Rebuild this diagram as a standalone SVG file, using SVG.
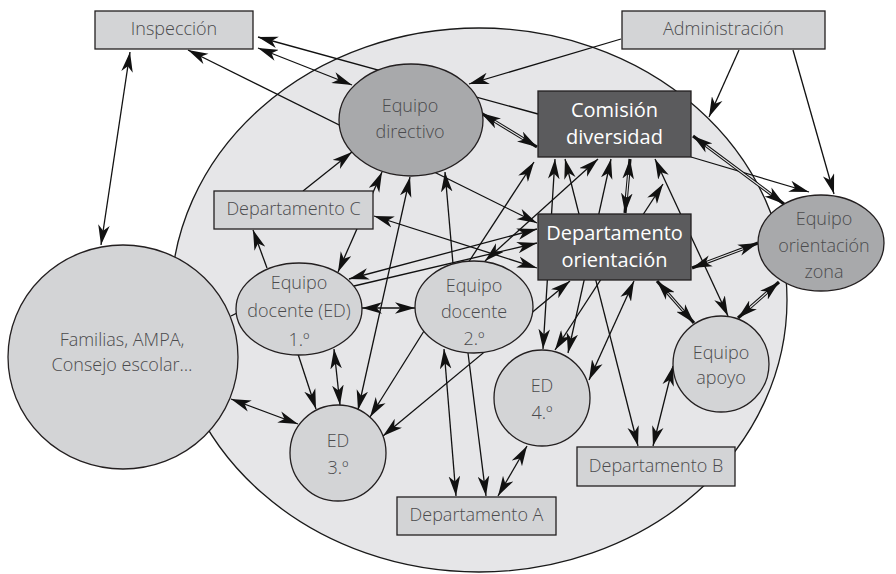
<svg xmlns="http://www.w3.org/2000/svg" width="896" height="574" viewBox="0 0 896 574">
  <defs>
    <marker id="ah" viewBox="-20 -6 21 12" refX="0" refY="0" markerWidth="21" markerHeight="12" markerUnits="userSpaceOnUse" orient="auto-start-reverse">
      <path d="M0,0 L-20,-5.8 L-14.5,0 L-20,5.8 Z" fill="#111"/>
    </marker>
  </defs>
  <style>
    .bg{fill:#e6e6e8;stroke:#1a1a1a;stroke-width:1.3}
    .lt{fill:#d3d4d6;stroke:#231f20;stroke-width:1.3}
    .md{fill:#a8a9ab;stroke:#231f20;stroke-width:1.3}
    .dk{fill:#5b5b5d;stroke:#231f20;stroke-width:1.3}
    .c{stroke:#111;stroke-width:1.3;fill:none}
    .one{marker-end:url(#ah)}
    .two{marker-start:url(#ah);marker-end:url(#ah)}
    .dbl{stroke-width:3.2}
    .gap{stroke:#e6e6e8;stroke-width:1.1;fill:none}
    text{font-family:"Open Sans","Liberation Sans",sans-serif;font-size:18px;font-weight:300;fill:#4b4b4d;text-anchor:middle}
    text.w{fill:#ffffff;font-size:20px;font-weight:400}
  </style>

  <!-- school: large background ellipse -->
  <ellipse id="escuela" class="bg" cx="479" cy="300" rx="308" ry="272"/>

  <g id="connectors">
    <line class="c one" x1="538" y1="114" x2="258" y2="37"/>
    <line class="c two" x1="258" y1="48" x2="352" y2="85"/>
    <line class="c two" x1="130" y1="52" x2="101" y2="245"/>
    <line class="c two" x1="188" y1="50" x2="537" y2="223"/>
    <line class="c one" x1="621" y1="39" x2="469" y2="84"/>
    <line class="c one" x1="739" y1="50" x2="709" y2="117"/>
    <line class="c one" x1="793" y1="50" x2="834" y2="194"/>
    <line class="c one" x1="691" y1="157" x2="809" y2="192"/>
    <line class="c two" x1="655" y1="159" x2="728" y2="316"/>
    <line class="c two" x1="673" y1="366" x2="653" y2="446"/>
    <line class="c two" x1="565" y1="159" x2="638" y2="446"/>
    <line class="c two" x1="543" y1="349" x2="555" y2="159"/>
    <line class="c two" x1="568" y1="353" x2="611" y2="159"/>
    <line class="c two" x1="555" y1="350" x2="663" y2="184"/>
    <line class="c two" x1="589" y1="380" x2="634" y2="281"/>
    <line class="c two" x1="527" y1="446" x2="498" y2="496"/>
    <line class="c two" x1="485" y1="261" x2="598" y2="159"/>
    <line class="c one" x1="468" y1="263" x2="534" y2="162"/>
    <line class="c one" x1="453" y1="264" x2="445" y2="172"/>
    <line class="c two" x1="358" y1="410" x2="410" y2="177"/>
    <line class="c two" x1="338" y1="272" x2="382" y2="172"/>
    <line class="c one" x1="303" y1="191" x2="352" y2="152"/>
    <line class="c one" x1="267" y1="268" x2="253" y2="230"/>
    <line class="c two" x1="374" y1="216" x2="537" y2="268"/>
    <line class="c two" x1="349" y1="279" x2="537" y2="229"/>
    <line class="c one" x1="354" y1="286" x2="537" y2="243"/>
    <line class="c two" x1="362" y1="308" x2="415" y2="308"/>
    <line class="c" x1="231" y1="316" x2="237" y2="313"/>
    <line class="c one" x1="298" y1="354" x2="316" y2="409"/>
    <line class="c two" x1="334" y1="349" x2="340" y2="405"/>
    <line class="c two" x1="231" y1="399" x2="298" y2="424"/>
    <line class="c one" x1="424" y1="331" x2="370" y2="417"/>
    <line class="c two" x1="383" y1="436" x2="570" y2="281"/>
    <line class="c two" x1="456" y1="496" x2="444" y2="349"/>
    <line class="c one" x1="468" y1="353" x2="486" y2="496"/>

    <!-- double-stroke links -->
    <line class="c two dbl" x1="481" y1="113" x2="537" y2="147"/>
    <line class="gap" x1="494.7" y1="121.3" x2="523.3" y2="138.7"/>
    <line class="c two dbl" x1="630" y1="159" x2="625" y2="213"/>
    <line class="gap" x1="628.5" y1="174.9" x2="626.5" y2="197.1"/>
    <line class="c two dbl" x1="693" y1="136" x2="784" y2="204"/>
    <line class="gap" x1="705.8" y1="145.6" x2="771.2" y2="194.4"/>
    <line class="c two dbl" x1="692" y1="268" x2="758" y2="243"/>
    <line class="gap" x1="706.9" y1="262.3" x2="743.1" y2="248.7"/>
    <line class="c two dbl" x1="779" y1="282" x2="738" y2="318"/>
    <line class="gap" x1="767" y1="292.5" x2="750" y2="307.5"/>
    <line class="c two dbl" x1="657" y1="281" x2="694" y2="323"/>
    <line class="gap" x1="667.6" y1="293" x2="683.4" y2="311"/>
  </g>

  <g id="inspeccion">
    <rect class="lt" x="95" y="11" width="158" height="38"/>
    <text x="174" y="35">Inspección</text>
  </g>
  <g id="administracion">
    <rect class="lt" x="622" y="11" width="203" height="38"/>
    <text x="723.5" y="35">Administración</text>
  </g>
  <g id="equipo-directivo">
    <ellipse class="md" cx="411" cy="120" rx="72" ry="56"/>
    <text x="410" y="112">Equipo</text>
    <text x="410" y="138">directivo</text>
  </g>
  <g id="comision-diversidad">
    <rect class="dk" x="538" y="91" width="153" height="66"/>
    <text class="w" x="614.5" y="117">Comisión</text>
    <text class="w" x="614.5" y="144">diversidad</text>
  </g>
  <g id="departamento-orientacion">
    <rect class="dk" x="538" y="214" width="153" height="66"/>
    <text class="w" x="614.5" y="240">Departamento</text>
    <text class="w" x="614.5" y="267">orientación</text>
  </g>
  <g id="equipo-orientacion-zona">
    <ellipse class="md" cx="821" cy="243" rx="63" ry="48"/>
    <text x="824" y="225">Equipo</text>
    <text x="824" y="252">orientación</text>
    <text x="824" y="278">zona</text>
  </g>
  <g id="departamento-c">
    <rect class="lt" x="214" y="191" width="159" height="38"/>
    <text x="293.5" y="215">Departamento C</text>
  </g>
  <g id="familias">
    <ellipse class="lt" cx="123" cy="357" rx="115" ry="112"/>
    <text x="122" y="346">Familias, AMPA,</text>
    <text x="122" y="371">Consejo escolar…</text>
  </g>
  <g id="equipo-docente-1">
    <ellipse class="lt" cx="299" cy="309" rx="63" ry="46"/>
    <text x="299" y="289">Equipo</text>
    <text x="299" y="317">docente (ED)</text>
    <text x="299" y="346">1.º</text>
  </g>
  <g id="equipo-docente-2">
    <ellipse class="lt" cx="474" cy="307" rx="59" ry="46"/>
    <text x="474" y="292">Equipo</text>
    <text x="474" y="318">docente</text>
    <text x="474" y="345">2.º</text>
  </g>
  <g id="ed-3">
    <circle class="lt" cx="338" cy="453" r="48"/>
    <text x="338" y="447">ED</text>
    <text x="338" y="474">3.º</text>
  </g>
  <g id="ed-4">
    <circle class="lt" cx="542" cy="398" r="48"/>
    <text x="542" y="392">ED</text>
    <text x="542" y="419">4.º</text>
  </g>
  <g id="equipo-apoyo">
    <circle class="lt" cx="721" cy="364" r="48"/>
    <text x="721" y="359">Equipo</text>
    <text x="721" y="384">apoyo</text>
  </g>
  <g id="departamento-a">
    <rect class="lt" x="397" y="497" width="159" height="38"/>
    <text x="476.5" y="521">Departamento A</text>
  </g>
  <g id="departamento-b">
    <rect class="lt" x="577" y="447" width="158" height="39"/>
    <text x="656" y="472">Departamento B</text>
  </g>
</svg>
